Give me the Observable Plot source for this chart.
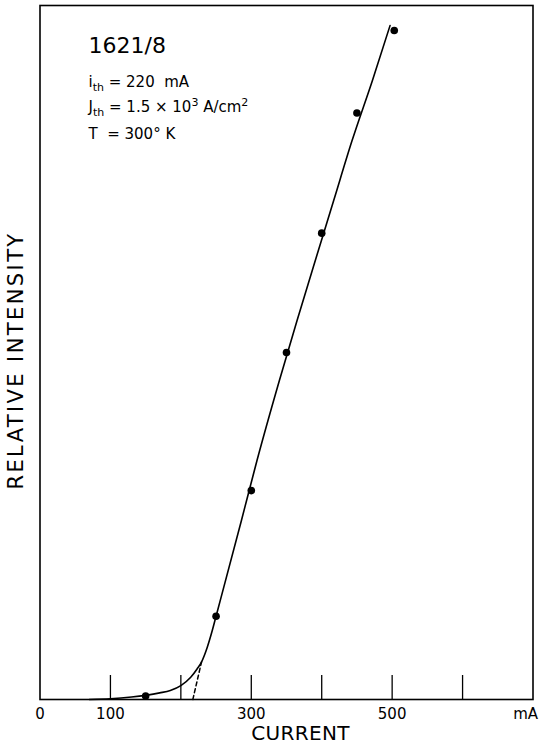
<!DOCTYPE html>
<html>
<head>
<meta charset="utf-8">
<script src="https://cdn.jsdelivr.net/npm/d3@7"></script>
<script src="https://cdn.jsdelivr.net/npm/@observablehq/plot@0.6"></script>
<style>
  html, body { margin: 0; padding: 0; background: #fff; }
  #chart { width: 539px; height: 748px; }
</style>
</head>
<body>
<div id="chart"></div>
<script>
// Measured points (current in mA, relative intensity in arbitrary units 0–100)
const pointCurrent   = [150, 250, 300, 350, 400, 450, 503];
const pointIntensity = [0.5, 12.0, 30.1, 50.0, 67.2, 84.5, 96.4];

// Hand-drawn fitted curve
const curveCurrent   = [70, 100, 130, 150, 170, 185, 200, 214, 223, 229.3, 237.4, 244.5, 250, 286, 308, 340, 365, 391, 417, 443, 472, 497];
const curveIntensity = [0, 0.1, 0.35, 0.6, 0.95, 1.3, 2.0, 3.2, 4.4, 5.4, 7.5, 9.9, 12, 25.8, 34.4, 46, 54.6, 63.3, 71.9, 80.5, 89.2, 97.1];

// Dashed extrapolation to threshold
const dashCurrent   = [217, 229.3];
const dashIntensity = [0, 5.4];

// Axis
const tickMarks  = [100, 200, 300, 400, 500, 600];
const tickLabels = [0, 100, 300, 500];
const tickText   = ["0", "100", "300", "500"];
const unitValue  = 700;
const unitText   = "mA";

// Annotation
const titleText = "1621/8";
const paramLines = ["i_{th} = 220  mA", "J_{th} = 1.5 × 10^{3} A/cm^{2}", "T  = 300° K"];
const yLabel = "RELATIVE INTENSITY";
const xLabel = "CURRENT";

const points = pointCurrent.map((c, i) => ({c, v: pointIntensity[i]}));
const curve = curveCurrent.map((c, i) => ({c, v: curveIntensity[i]}));
const dash = dashCurrent.map((c, i) => ({c, v: dashIntensity[i]}));

const font = "'DejaVu Sans', sans-serif";

const chart = Plot.plot({
  width: 539,
  height: 748,
  marginLeft: 39.5,
  marginRight: 6.5,
  marginTop: 5,
  marginBottom: 49,
  style: {background: "#fff", color: "#000", fontFamily: font},
  x: {domain: [0, 700]},
  y: {domain: [0, 100]},
  marks: [
    Plot.frame({stroke: "#000", strokeWidth: 1.6}),
    Plot.ruleX(tickMarks, {x: d => d, stroke: "#000", strokeWidth: 1.3, insetTop: 670}),
    Plot.axisX({ticks: tickLabels, tickFormat: d => tickText[tickLabels.indexOf(d)], tickSize: 0, tickPadding: 9, fontSize: 15, label: null}),
    Plot.text([unitValue], {x: d => d, text: () => unitText, frameAnchor: "bottom", textAnchor: "end", lineAnchor: "top", dy: 9, dx: 5, fontSize: 15}),
    Plot.axisY({ticks: [], label: null, tickSize: 0}),
    Plot.line(curve, {x: "c", y: "v", curve: "monotone-x", stroke: "#000", strokeWidth: 1.6}),
    Plot.line(dash, {x: "c", y: "v", stroke: "#000", strokeWidth: 1.5, strokeDasharray: "4,3"}),
    Plot.dot(points, {x: "c", y: "v", r: 3.8, fill: "#000", stroke: "none"}),
    Plot.text([xLabel], {text: d => d, frameAnchor: "bottom", textAnchor: "middle", lineAnchor: "middle", dy: 34.5, dx: 14, fontSize: 20}),
    Plot.text([yLabel], {text: d => d, frameAnchor: "left", textAnchor: "middle", rotate: -90, dx: -24, dy: 8, lineAnchor: "middle", fontSize: 21}),
    Plot.text([titleText], {text: d => d, frameAnchor: "top-left", textAnchor: "start", lineAnchor: "middle", dx: 48.5, dy: 40.5, fontSize: 22}),
    Plot.text([paramLines[0]], {text: d => d, frameAnchor: "top-left", textAnchor: "start", lineAnchor: "middle", dx: 48.5, dy: 76.5, fontSize: 15}),
    Plot.text([paramLines[1]], {text: d => d, frameAnchor: "top-left", textAnchor: "start", lineAnchor: "middle", dx: 48.5, dy: 101.5, fontSize: 15}),
    Plot.text([paramLines[2]], {text: d => d, frameAnchor: "top-left", textAnchor: "start", lineAnchor: "middle", dx: 48.5, dy: 128.7, fontSize: 15})
  ]
});

// Turn _{..} and ^{..} markup into subscript / superscript tspans
function richify(svg) {
  const NS = "http://www.w3.org/2000/svg";
  d3.select(svg).selectAll("text").each(function() {
    const el = this;
    const s = el.textContent;
    if (s === yLabel) { el.setAttribute("letter-spacing", "2.4"); return; }
    if (s === xLabel) { el.setAttribute("letter-spacing", "0.3"); return; }
    if (!/[_^]\{/.test(s)) return;
    while (el.firstChild) el.removeChild(el.firstChild);
    const re = /([_^])\{([^}]*)\}/g;
    let last = 0, m, pending = 0;
    const add = (txt, kind) => {
      if (!txt) return;
      const t = document.createElementNS(NS, "tspan");
      t.textContent = txt;
      t.style.whiteSpace = "pre";
      let shift = 0;
      if (kind === "_") { shift = 4; t.setAttribute("font-size", "11"); }
      if (kind === "^") { shift = -6; t.setAttribute("font-size", "11"); }
      const dy = shift - pending;
      if (dy) t.setAttribute("dy", dy);
      pending = shift;
      el.appendChild(t);
    };
    while ((m = re.exec(s))) {
      add(s.slice(last, m.index), null);
      add(m[2], m[1]);
      last = re.lastIndex;
    }
    add(s.slice(last), null);
  });
}
richify(chart);

document.getElementById("chart").appendChild(chart);
</script>
</body>
</html>
